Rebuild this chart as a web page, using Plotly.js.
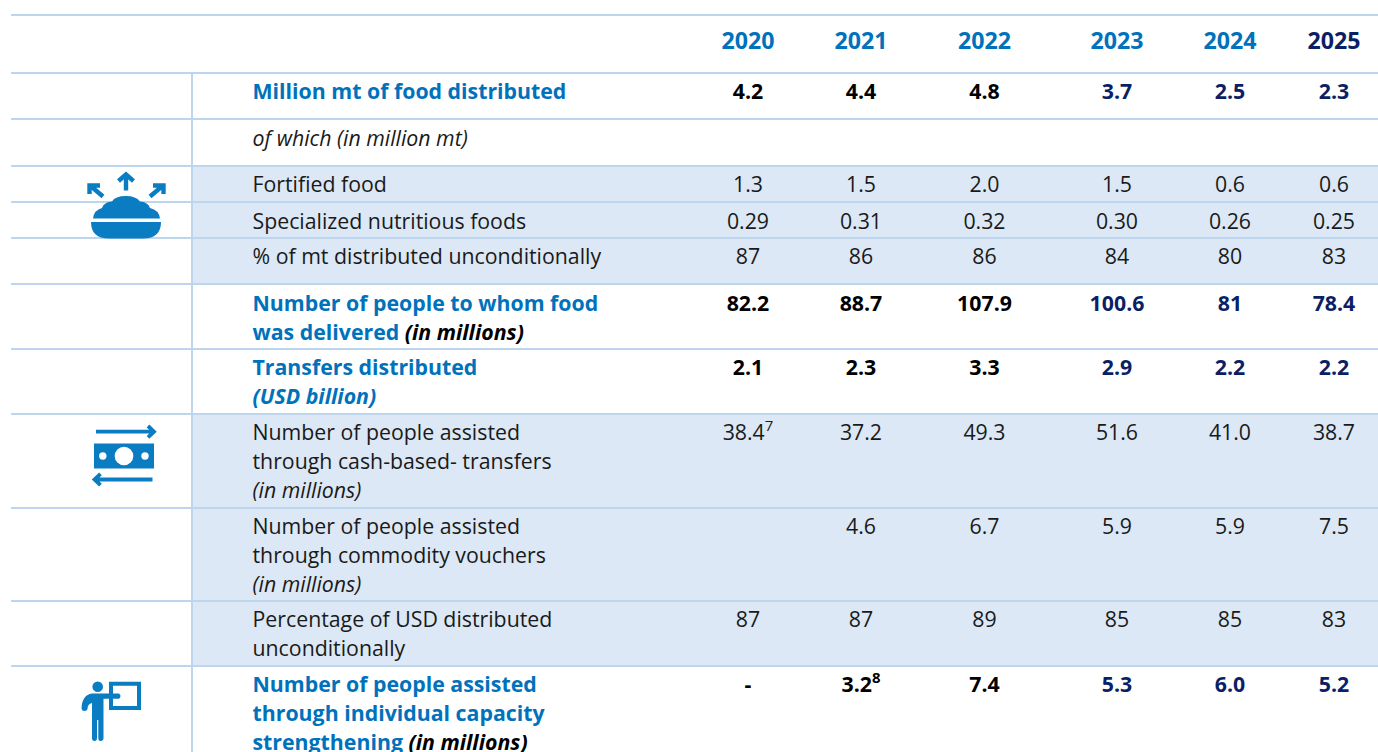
<!DOCTYPE html>
<html>
<head>
<meta charset="utf-8">
<script src="https://cdn.plot.ly/plotly-3.0.1.min.js"></script>
<style>html,body{margin:0;padding:0;background:#fff;overflow:hidden}</style>
</head>
<body>
<div id="chart" style="width:1378px;height:752px"></div>
<script>
// ---------- data ----------
var years = ['2020','2021','2022','2023','2024','2025'];
var rowLabels = [
  ['Million mt of food distributed'],
  ['<i>of which (in million mt)</i>'],
  ['Fortified food'],
  ['Specialized nutritious foods'],
  ['% of mt distributed unconditionally'],
  ['Number of people to whom food','was delivered <i>(in millions)</i>'],
  ['Transfers distributed','<i>(USD billion)</i>'],
  ['Number of people assisted','through cash-based- transfers','<i>(in millions)</i>'],
  ['Number of people assisted','through commodity vouchers','<i>(in millions)</i>'],
  ['Percentage of USD distributed','unconditionally'],
  ['Number of people assisted','through individual capacity','strengthening <i>(in millions)</i>']
];
var foodDistributed   = ['4.2','4.4','4.8','3.7','2.5','2.3'];
var ofWhich           = ['','','','','',''];
var fortifiedFood     = ['1.3','1.5','2.0','1.5','0.6','0.6'];
var specializedFoods  = ['0.29','0.31','0.32','0.30','0.26','0.25'];
var pctUnconditional  = ['87','86','86','84','80','83'];
var peopleFood        = ['82.2','88.7','107.9','100.6','81','78.4'];
var transfers         = ['2.1','2.3','3.3','2.9','2.2','2.2'];
var peopleCash        = ['38.4<sup>7</sup>','37.2','49.3','51.6','41.0','38.7'];
var peopleVouchers    = ['','4.6','6.7','5.9','5.9','7.5'];
var pctUsdUncond      = ['87','87','89','85','85','83'];
var peopleCapacity    = ['-','3.2<sup>8</sup>','7.4','5.3','6.0','5.2'];
var rowValues = [foodDistributed, ofWhich, fortifiedFood, specializedFoods, pctUnconditional,
                 peopleFood, transfers, peopleCash, peopleVouchers, pctUsdUncond, peopleCapacity];

// ---------- styling / layout ----------
var BLUE = '#0072BC', NAVY = '#0B1F66', INK = '#1A1A1A', LINE = '#BDD6EE', SHADE = '#DCE8F5', ICON = '#0A7CC2';
var FONT = '"Open Sans", sans-serif';
var colX = [748, 861, 984.5, 1117, 1230, 1334];
var labelX = 252.5;
var edges = [15, 73, 119, 166, 202, 238, 284, 349, 414, 508, 601, 666];
var rowFirstLine = [93.5, 140.5, 186.5, 223.5, 258.5, 305.5, 369.5, 434.5, 528.5, 621.5, 686.5];
var LINE_H = 29;
var boldRows = [true,false,false,false,false,true,true,false,false,false,true];
var shadedRows = [[166,284],[414,666]];
var SIZE = 21.3;

var traces = [];
// header
traces.push({
  x: colX, y: colX.map(function(){return 43.5;}), text: years.map(function(t){return '<b>'+t+'</b>';}),
  mode:'text', textposition:'middle center', cliponaxis:false, hoverinfo:'skip',
  textfont:{family:FONT,size:23.2,color:[BLUE,BLUE,BLUE,BLUE,BLUE,NAVY]}
});
// row labels, one point per printed line
var lx=[],ly=[],lt=[],lc=[];
rowLabels.forEach(function(lines,i){
  lines.forEach(function(line,k){
    var t=line;
    if(boldRows[i]){
      if(i===6) t='<b>'+line+'</b>';
      else t='<b>'+line.replace(/<i>(.*?)<\/i>/,'<span style="color:#000"><i>$1</i></span>')+'</b>';
    }
    lx.push(labelX); ly.push(rowFirstLine[i]+k*LINE_H); lt.push(t); lc.push(boldRows[i]?BLUE:INK);
  });
});
traces.push({x:lx,y:ly,text:lt,mode:'text',textposition:'middle right',cliponaxis:true,hoverinfo:'skip',
  textfont:{family:FONT,size:SIZE,color:lc}});
// values
var vx=[],vy=[],vt=[],vc=[];
rowValues.forEach(function(vals,r){
  vals.forEach(function(v,c){
    if(!v) return;
    var bold=boldRows[r];
    vx.push(colX[c]); vy.push(rowFirstLine[r]);
    vt.push(bold?'<b>'+v+'</b>':v);
    vc.push(bold?(c>=3?NAVY:'#000'):INK);
  });
});
traces.push({x:vx,y:vy,text:vt,mode:'text',textposition:'middle center',cliponaxis:false,hoverinfo:'skip',
  textfont:{family:FONT,size:SIZE,color:vc}});

// shapes
var shapes=[];
shadedRows.forEach(function(b){
  shapes.push({type:'rect',xref:'x',yref:'y',x0:192,x1:1378,y0:b[0],y1:b[1],fillcolor:SHADE,line:{width:0},layer:'below'});
});
edges.forEach(function(e){
  shapes.push({type:'line',xref:'x',yref:'y',x0:11,x1:1378,y0:e,y1:e,line:{color:LINE,width:2},layer:'below'});
});
shapes.push({type:'line',xref:'x',yref:'y',x0:192,x1:192,y0:73,y1:752,line:{color:LINE,width:2},layer:'below'});

function fillPath(p,c){ shapes.push({type:'path',xref:'x',yref:'y',path:p,fillcolor:c||ICON,line:{width:0},layer:'above'}); }
function strokePath(p,w,c){ shapes.push({type:'path',xref:'x',yref:'y',path:p,line:{color:c||ICON,width:w},layer:'above'}); }
function circle(cx,cy,r,c){ shapes.push({type:'circle',xref:'x',yref:'y',x0:cx-r,x1:cx+r,y0:cy-r,y1:cy+r,fillcolor:c,line:{width:0},layer:'above'}); }

// food bowl icon
strokePath('M126,190.5 L126,174.5 M118.5,181 L126,174.5 L133.5,181',4.4);
strokePath('M103,196.5 L90,185.5 M89.5,194 L89.5,185.5 L100,185.5',4.4);
strokePath('M150,196.5 L163,185.5 M163.5,194 L163.5,185.5 L153,185.5',4.4);
fillPath('M93,218.5 Q94,210 102,208 Q104,202 112,201.5 Q115,196 126,196 Q136,196 140,201.5 Q148,202 150,208 Q159,210 160,218.5 Z');
fillPath('M91,222 L161,222 Q161,238.5 143,238.5 L109,238.5 Q91,238.5 91,222 Z');

// cash icon
strokePath('M96,431.7 L154,431.7 M148,426 L154,431.7 L148,437.4',3.8);
fillPath('M94,443.5 L154,443.5 L154,468.5 L94,468.5 Z');
circle(124,456,9.3,'#fff'); circle(102.8,456,3.7,'#fff'); circle(145,456,3.7,'#fff');
strokePath('M94.5,479.5 L152.5,479.5 M100.5,473.8 L94.5,479.5 L100.5,485.2',3.8);

// person icon
circle(97.7,686.7,5.3,ICON);
strokePath('M111,683.7 L139,683.7 L139,708 L111,708 Z',4);
fillPath('M119,693.5 Q122,696 119,698.8 L103.5,698.8 L103.5,738 Q103.5,741 100.5,741 Q98.3,741 98.3,738 L98.3,720 L97,720 L97,738 Q97,741 94.5,741 Q92,741 92,738 L92,703 Q87.5,704 87.5,709 Q87,711 84.5,711 Q82,711 81.5,708.5 Q82,695 92,693.5 Z');

var layout={
  width:1378,height:752,margin:{l:0,r:0,t:0,b:0},showlegend:false,
  paper_bgcolor:'#fff',plot_bgcolor:'#fff',
  xaxis:{range:[0,1378],visible:false,fixedrange:true},
  yaxis:{range:[752,0],visible:false,fixedrange:true},
  shapes:shapes,font:{family:FONT}
};
Plotly.newPlot('chart',traces,layout,{staticPlot:true,displayModeBar:false});
</script>
</body>
</html>
